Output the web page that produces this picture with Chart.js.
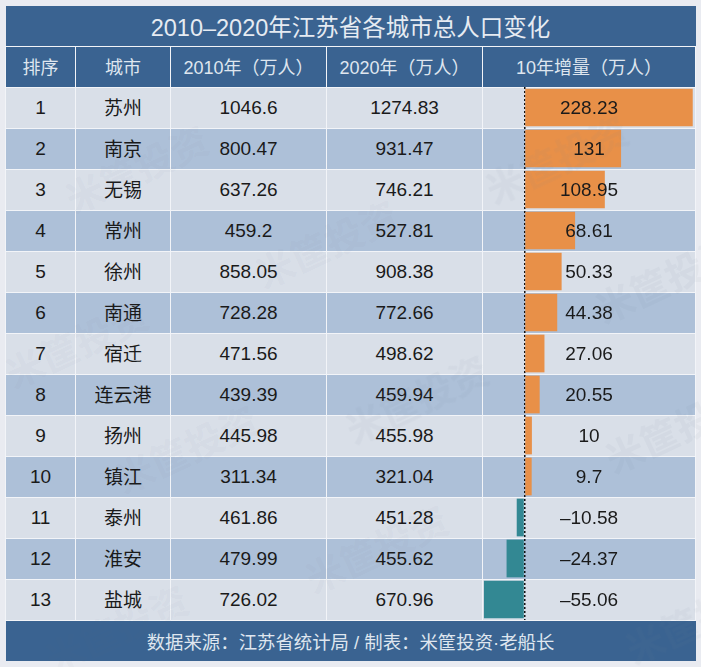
<!DOCTYPE html>
<html>
<head>
<meta charset="utf-8">
<script src="https://cdn.jsdelivr.net/npm/chart.js@4"></script>
<style>
    body { margin: 0; background: #e9ebf1; font-family: "Liberation Sans", "Noto Sans CJK SC", sans-serif; color: #1a1a1a; }
    #wrap { position: relative; width: 701px; height: 667px; overflow: hidden; }
    table { position: absolute; left: 5px; top: 6px; width: 690px; table-layout: fixed; border-collapse: collapse; text-align: center; font-size: 19px; }
    td, th { border: 1px solid #f2f4f8; padding: 0; height: 40px; font-weight: normal; overflow: hidden; white-space: nowrap; }
    .title { background: #3a6391; color: #e6ebf2; font-size: 23.5px; border: 0; }
    .head th { background: #3a6391; color: #dfe6ef; font-size: 18px; }
    .head th span { position: relative; top: -1px; }
    .foot { background: #3a6391; color: #dfe6ef; font-size: 18.4px; border: 0; }
    tr.odd td { background: #d9dfe8; }
    tr.even td { background: #adc0d8; }
    td .val { position: relative; z-index: 3; }
    td .city { position: relative; top: -2px; }
    #barBox { position: absolute; left: 482px; top: 87px; width: 213px; height: 533px; z-index: 2; }
    .wm { position: absolute; z-index: 4; font-size: 38px; font-weight: bold; color: rgba(110,120,140,0.055); transform: rotate(-25deg); white-space: nowrap; pointer-events: none; }
</style>
</head>
<body>
<div id="wrap">
    <table id="tbl"></table>
    <div id="barBox"><canvas id="bars" width="213" height="533"></canvas></div>
</div>
<script>
const titleText = "2010–2020年江苏省各城市总人口变化";
const headers = ["排序", "城市", "2010年（万人）", "2020年（万人）", "10年增量（万人）"];
const footText = "数据来源：江苏省统计局 / 制表：米筐投资·老船长";
const ranks = [1, 2, 3, 4, 5, 6, 7, 8, 9, 10, 11, 12, 13];
const cities = ["苏州", "南京", "无锡", "常州", "徐州", "南通", "宿迁", "连云港", "扬州", "镇江", "泰州", "淮安", "盐城"];
const pop2010 = [1046.6, 800.47, 637.26, 459.2, 858.05, 728.28, 471.56, 439.39, 445.98, 311.34, 461.86, 479.99, 726.02];
const pop2020 = [1274.83, 931.47, 746.21, 527.81, 908.38, 772.66, 498.62, 459.94, 455.98, 321.04, 451.28, 455.62, 670.96];
const growth = [228.23, 131, 108.95, 68.61, 50.33, 44.38, 27.06, 20.55, 10, 9.7, -10.58, -24.37, -55.06];
const watermarks = [[60, 140], [480, 130], [250, 215], [590, 250], [0, 315], [340, 370], [110, 420], [600, 400], [300, 520], [620, 590], [40, 600]];

// table
let html = '<colgroup><col style="width:70px"><col style="width:95px"><col style="width:156px"><col style="width:156px"><col style="width:213px"></colgroup>';
html += '<tr><td class="title" colspan="5">' + titleText + '</td></tr>';
html += '<tr class="head">' + headers.map((h) => '<th style="height:40px"><span>' + h + '</span></th>').join("") + '</tr>';
ranks.forEach((r, i) => {
    html += '<tr class="' + (i % 2 ? "even" : "odd") + '">';
    html += '<td>' + r + '</td><td><span class="city">' + cities[i] + '</span></td><td>' + pop2010[i] + '</td><td>' + pop2020[i] + '</td>';
    html += '<td><span class="val">' + String(growth[i]).replace("-", "–") + '</span></td></tr>';
});
html += '<tr><td class="foot" colspan="5">' + footText + '</td></tr>';
document.getElementById("tbl").innerHTML = html;

// faint watermark
const wrap = document.getElementById("wrap");
watermarks.forEach((p) => {
    const d = document.createElement("div");
    d.className = "wm";
    d.textContent = "米筐投资";
    d.style.left = p[0] + "px";
    d.style.top = p[1] + "px";
    wrap.appendChild(d);
});

// bars in the last column
new Chart(document.getElementById("bars"), {
    type: "bar",
    data: {
        labels: cities,
        datasets: [{
            data: growth,
            backgroundColor: growth.map((v) => (v >= 0 ? "#e89048" : "#338893")),
            barPercentage: 0.92,
            categoryPercentage: 1,
        }],
    },
    options: {
        indexAxis: "y",
        responsive: false,
        animation: false,
        layout: { padding: 0 },
        plugins: { legend: { display: false }, tooltip: { enabled: false } },
        scales: {
            x: {
                min: -57.7,
                max: 231.3,
                ticks: { display: false, stepSize: 50 },
                border: { display: false, dash: [2, 2] },
                grid: {
                    drawTicks: false,
                    lineWidth: 1.5,
                    color: (ctx) => (ctx.tick && ctx.tick.value === 0 ? "#111" : "transparent"),
                },
                afterFit: (s) => { s.height = 0; },
            },
            y: { display: false },
        },
    },
});
</script>
</body>
</html>
